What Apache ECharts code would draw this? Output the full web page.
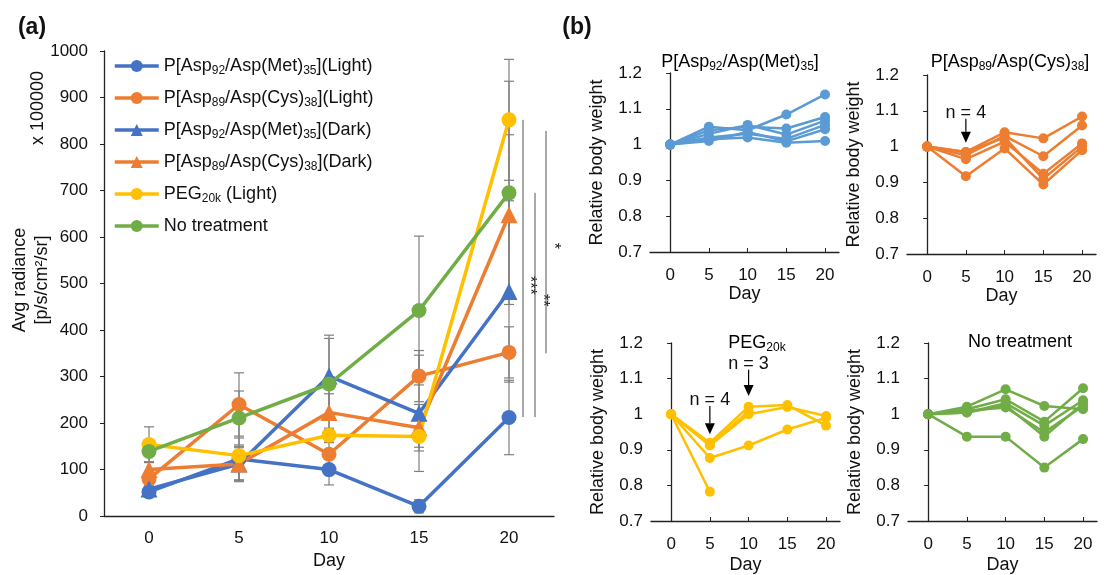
<!DOCTYPE html>
<html>
<head>
<meta charset="utf-8">
<script src="https://cdn.jsdelivr.net/npm/echarts@6/dist/echarts.min.js"></script>
<style>
  html, body { margin: 0; padding: 0; background: #fff; }
  #main { width: 1104px; height: 575px; }
</style>
</head>
<body>
<div id="main"></div>
<script>
  // ---- (a) tumour radiance, x 100000 ----
  var days = ['0', '5', '10', '15', '20'];
  var metLight = [52, 123, 100, 21, 212];
  var cysLight = [80, 240, 133, 301, 352];
  var metDark = [58, 112, 301, 221, 483];
  var cysDark = [100, 112, 223, 190, 648];
  var pegLight = [154, 130, 174, 171, 852];
  var noTreat = [139, 211, 284, 442, 695];

  var metLightErr = [12, 45, 33, 14, 80];
  var cysLightErr = [15, 68, 25, 55, 55];
  var metDarkErr = [12, 35, 88, 125, 195];
  var cysDarkErr = [15, 38, 40, 50, 172];
  var pegLightErr = [38, 10, 15, 23, 130];
  var noTreatErr = [22, 58, 98, 160, 240];

  // significance bars at day 20 (values on the radiance axis)
  var sigFrom = [852, 695, 828];
  var sigTo = [213, 213, 350];
  var sigStarAt = [496, 464, 581];
  var sigMark = ['***', '**', '*'];

  // ---- (b) relative body weight, one array per mouse ----
  var bDays = [0, 5, 10, 15, 20];
  var metMice = [
    [1, 1.05, 1.04, 1.084, 1.14],
    [1, 1.04, 1.05, 1.045, 1.077],
    [1, 1.03, 1.055, 1.028, 1.067],
    [1, 1.02, 1.03, 1.016, 1.055],
    [1, 1.01, 1.035, 1.009, 1.043],
    [1, 1.015, 1.02, 1.005, 1.01]
  ];
  var cysMice = [
    [1, 0.985, 1.04, 1.023, 1.084],
    [1, 0.976, 1.03, 0.973, 1.059],
    [1, 0.965, 1.014, 0.924, 1.009],
    [1, 0.917, 0.995, 0.894, 0.99],
    [1, 0.985, 1.025, 0.91, 1.0]
  ];
  var pegMice = [
    [1, 0.782],
    [1, 0.92, 1.021, 1.026, 0.968],
    [1, 0.912, 1.0, 1.02, 0.995],
    [1, 0.877, 0.912, 0.957, 0.99],
    [1, 0.915, 1.008]
  ];
  var ntMice = [
    [1, 1.021, 1.07, 1.023, 1.014],
    [1, 1.014, 1.042, 0.979, 1.073],
    [1, 1.005, 1.031, 0.968, 1.039],
    [1, 1.01, 1.019, 0.949, 1.023],
    [1, 1.005, 1.025, 0.937, 1.03],
    [1, 0.937, 0.937, 0.85, 0.93]
  ];
  var bTicks = [1.2, 1.1, 1, 0.9, 0.8, 0.7];

  // arrows "n = ..." in (b)
  var cysNoteDay = [5];
  var cysNoteTop = [1.078];
  var cysNoteTip = [1.011];
  var cysNoteText = ['n = 4'];
  var pegNoteDay = [5, 10];
  var pegNoteTop = [1.023, 1.125];
  var pegNoteTip = [0.944, 1.051];
  var pegNoteText = ['n = 4', 'n = 3'];

  var FONT = '"Liberation Sans", Arial, sans-serif';
  var INK = '#111';
  var BLUE = '#4472C4', ORANGE = '#ED7D31', YELLOW = '#FFC000', GREEN = '#70AD47', LBLUE = '#5B9BD5';

  var rich = {
    m: { fontSize: 18, lineHeight: 22, color: INK, fontFamily: FONT },
    s: { fontSize: 12, lineHeight: 13, color: INK, fontFamily: FONT, verticalAlign: 'bottom' }
  };

  var legendText = {
    'metLight': '{m|P[Asp}{s|92}{m|/Asp(Met)}{s|35}{m|](Light)}',
    'cysLight': '{m|P[Asp}{s|89}{m|/Asp(Cys)}{s|38}{m|](Light)}',
    'metDark': '{m|P[Asp}{s|92}{m|/Asp(Met)}{s|35}{m|](Dark)}',
    'cysDark': '{m|P[Asp}{s|89}{m|/Asp(Cys)}{s|38}{m|](Dark)}',
    'pegLight': '{m|PEG}{s|20k}{m| (Light)}',
    'noTreat': '{m|No treatment}'
  };

  var groupsA = [
    { name: 'metLight', data: metLight, err: metLightErr, color: BLUE, symbol: 'circle' },
    { name: 'cysLight', data: cysLight, err: cysLightErr, color: ORANGE, symbol: 'circle' },
    { name: 'metDark', data: metDark, err: metDarkErr, color: BLUE, symbol: 'triangle' },
    { name: 'cysDark', data: cysDark, err: cysDarkErr, color: ORANGE, symbol: 'triangle' },
    { name: 'pegLight', data: pegLight, err: pegLightErr, color: YELLOW, symbol: 'circle' },
    { name: 'noTreat', data: noTreat, err: noTreatErr, color: GREEN, symbol: 'circle' }
  ];

  function errRender(params, api) {
    var k = api.value(0);
    var hi = api.coord([k, api.value(2)]);
    var lo = api.coord([k, api.value(1)]);
    var w = 5;
    var st = { stroke: '#7f7f7f', lineWidth: 1.2 };
    return {
      type: 'group',
      children: [
        { type: 'line', shape: { x1: hi[0], y1: hi[1], x2: lo[0], y2: lo[1] }, style: st },
        { type: 'line', shape: { x1: hi[0] - w, y1: hi[1], x2: hi[0] + w, y2: hi[1] }, style: st },
        { type: 'line', shape: { x1: lo[0] - w, y1: lo[1], x2: lo[0] + w, y2: lo[1] }, style: st }
      ]
    };
  }

  var sigLineDx = [14, 26, 37];
  var sigStarDx = [6, 7, 7];
  function sigRender(params, api) {
    var i = api.value(3);
    var top = api.coord([4, api.value(1)]);
    var bot = api.coord([4, api.value(2)]);
    var star = api.coord([4, sigStarAt[i]]);
    var x = top[0] + sigLineDx[i];
    return {
      type: 'group',
      children: [
        { type: 'line', shape: { x1: x, y1: top[1], x2: x, y2: bot[1] }, style: { stroke: '#555', lineWidth: 1 } },
        { type: 'text', x: x + sigStarDx[i], y: star[1], rotation: -Math.PI / 2,
          style: { text: sigMark[i], fontSize: 16, fill: INK, fontFamily: FONT, align: 'center', verticalAlign: 'middle' } }
      ]
    };
  }

  function makeNoteRender(texts) {
    return function (params, api) {
      var d = api.value(0);
      var top = api.coord([d, api.value(1)]);
      var tip = api.coord([d, api.value(2)]);
      var hh = 11, hw = 5;
      return {
        type: 'group',
        children: [
          { type: 'line', shape: { x1: top[0], y1: top[1], x2: tip[0], y2: tip[1] - hh }, style: { stroke: '#000', lineWidth: 1.2 } },
          { type: 'polygon', shape: { points: [[tip[0] - hw, tip[1] - hh], [tip[0] + hw, tip[1] - hh], [tip[0], tip[1]]] }, style: { fill: '#000' } },
          { type: 'text', x: top[0], y: top[1] - 6,
            style: { text: texts[api.value(3)], fontSize: 18, fill: INK, fontFamily: FONT, align: 'center', verticalAlign: 'middle' } }
        ]
      };
    };
  }

  var series = [];
  groupsA.forEach(function (g) {
    series.push({
      type: 'custom',
      xAxisIndex: 0, yAxisIndex: 0,
      renderItem: errRender,
      silent: true,
      z: 1,
      data: g.data.map(function (v, k) { return [k, v - g.err[k], v + g.err[k]]; })
    });
  });
  groupsA.forEach(function (g) {
    series.push({
      name: g.name,
      type: 'line',
      xAxisIndex: 0, yAxisIndex: 0,
      data: g.data,
      symbol: g.symbol,
      symbolSize: g.symbol === 'triangle' ? 17 : 15,
      color: g.color,
      lineStyle: { width: 3.5, color: g.color },
      itemStyle: { color: g.color },
      z: 3
    });
  });
  series.push({
    type: 'custom',
    xAxisIndex: 0, yAxisIndex: 0,
    renderItem: sigRender,
    silent: true,
    z: 2,
    data: sigFrom.map(function (v, i) { return [4, v, sigTo[i], i]; })
  });

  function addMice(mice, gi, color) {
    mice.forEach(function (m) {
      series.push({
        type: 'line',
        xAxisIndex: gi, yAxisIndex: gi,
        data: m.map(function (v, k) { return [bDays[k], v]; }),
        symbol: 'circle',
        symbolSize: 10,
        color: color,
        lineStyle: { width: 2.5, color: color },
        itemStyle: { color: color }
      });
    });
  }
  addMice(metMice, 1, LBLUE);
  addMice(cysMice, 2, ORANGE);
  addMice(pegMice, 3, YELLOW);
  addMice(ntMice, 4, GREEN);

  series.push({
    type: 'custom', xAxisIndex: 2, yAxisIndex: 2, silent: true, z: 5,
    renderItem: makeNoteRender(cysNoteText),
    data: cysNoteDay.map(function (d, i) { return [d, cysNoteTop[i], cysNoteTip[i], i]; })
  });
  series.push({
    type: 'custom', xAxisIndex: 3, yAxisIndex: 3, silent: true, z: 5,
    renderItem: makeNoteRender(pegNoteText),
    data: pegNoteDay.map(function (d, i) { return [d, pegNoteTop[i], pegNoteTip[i], i]; })
  });

  var axisLine = { lineStyle: { color: '#222', width: 1.3 } };

  function bX(gi, gap) {
    return {
      type: 'value', gridIndex: gi, min: -2.6, max: 21.8,
      name: 'Day', nameLocation: 'middle', nameGap: gap,
      nameTextStyle: { fontSize: 18, color: INK, fontFamily: FONT },
      axisLine: axisLine,
      axisTick: { inside: true, length: 4, customValues: bDays, lineStyle: { color: '#222' } },
      axisLabel: { customValues: bDays, margin: 15, fontSize: 17, color: INK, fontFamily: FONT },
      splitLine: { show: false }
    };
  }
  function bY(gi) {
    return {
      type: 'value', gridIndex: gi, min: bTicks[bTicks.length - 1], max: bTicks[0], interval: 0.1,
      name: 'Relative body weight', nameLocation: 'middle', nameGap: 44,
      nameTextStyle: { fontSize: 18, color: INK, fontFamily: FONT },
      axisLine: { show: true, lineStyle: { color: '#222', width: 1.3 } },
      axisTick: { show: true, length: 4, lineStyle: { color: '#222' } },
      axisLabel: { margin: 8, fontSize: 17, color: INK, fontFamily: FONT,
        formatter: function (v) { return String(parseFloat(v.toFixed(1))); } },
      splitLine: { show: false }
    };
  }

  var option = {
    animation: false,
    backgroundColor: '#fff',
    textStyle: { fontFamily: FONT },
    legend: {
      orient: 'vertical',
      left: 108, top: 52,
      itemWidth: 44, itemHeight: 15, itemGap: 12,
      data: groupsA.map(function (g) { return g.name; }),
      formatter: function (n) { return legendText[n]; },
      lineStyle: { width: 3.5 },
      textStyle: { rich: rich },
      selectedMode: false
    },
    grid: [
      { left: 104, top: 51, width: 450, height: 470 },
      { left: 650, top: 73, width: 189, height: 179 },
      { left: 907, top: 75, width: 189, height: 179 },
      { left: 651, top: 343, width: 189, height: 180 },
      { left: 908, top: 343, width: 189, height: 180 }
    ],
    xAxis: [
      {
        type: 'category', gridIndex: 0, data: days, boundaryGap: true,
        name: 'Day', nameLocation: 'middle', nameGap: 29,
        nameTextStyle: { fontSize: 18, color: INK, fontFamily: FONT },
        axisLine: axisLine,
        axisTick: { inside: true, length: 5, lineStyle: { color: '#222' } },
        axisLabel: { interval: 0, margin: 14, fontSize: 17, color: INK, fontFamily: FONT }
      },
      bX(1, 33), bX(2, 33), bX(3, 35), bX(4, 35)
    ],
    yAxis: [
      {
        type: 'value', gridIndex: 0, min: 0, max: 1000, interval: 100,
        axisLine: { show: true, lineStyle: { color: '#222', width: 1.3 } },
        axisTick: { show: true, length: 4, lineStyle: { color: '#222' } },
        axisLabel: { margin: 16, fontSize: 17, color: INK, fontFamily: FONT,
          formatter: function (v) { return String(v); } },
        splitLine: { show: false }
      },
      bY(1), bY(2), bY(3), bY(4)
    ],
    graphic: [
      { type: 'text', x: 32, y: 28, style: { text: '(a)', fontSize: 23, fontWeight: 'bold', fill: INK, fontFamily: FONT, align: 'center', verticalAlign: 'middle' } },
      { type: 'text', x: 577, y: 28, style: { text: '(b)', fontSize: 23, fontWeight: 'bold', fill: INK, fontFamily: FONT, align: 'center', verticalAlign: 'middle' } },
      { type: 'text', x: 38, y: 108, rotation: Math.PI / 2, style: { text: 'x 100000', fontSize: 18, fill: INK, fontFamily: FONT, align: 'center', verticalAlign: 'middle' } },
      { type: 'text', x: 31, y: 280, rotation: Math.PI / 2, style: { text: 'Avg radiance\n[p/s/cm\u00b2/sr]', fontSize: 18, lineHeight: 22, fill: INK, fontFamily: FONT, align: 'center', verticalAlign: 'middle' } },
      { type: 'text', x: 740, y: 62, style: { text: '{m|P[Asp}{s|92}{m|/Asp(Met)}{s|35}{m|]}', rich: rich, align: 'center', verticalAlign: 'middle' } },
      { type: 'text', x: 1010, y: 62, style: { text: '{m|P[Asp}{s|89}{m|/Asp(Cys)}{s|38}{m|]}', rich: rich, align: 'center', verticalAlign: 'middle' } },
      { type: 'text', x: 757, y: 343, style: { text: '{m|PEG}{s|20k}', rich: rich, align: 'center', verticalAlign: 'middle' } },
      { type: 'text', x: 1020, y: 342, style: { text: '{m|No treatment}', rich: rich, align: 'center', verticalAlign: 'middle' } }
    ],
    series: series
  };

  var chart = echarts.init(document.getElementById('main'));
  chart.setOption(option);
</script>
</body>
</html>
